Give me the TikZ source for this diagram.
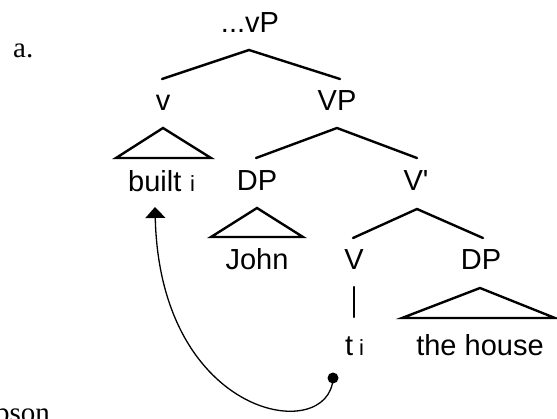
\documentclass[tikz,border=0pt]{standalone}
\usepackage{fontspec}
\setmainfont{Liberation Serif}
\newfontfamily\treefont{Liberation Sans}
\usetikzlibrary{arrows.meta}
\begin{document}
\begin{tikzpicture}[x=1pt,y=-1pt,
  lab/.style={font=\treefont\fontsize{29}{32}\selectfont, inner sep=0pt, anchor=base},
  idx/.style={font=\treefont\fontsize{22}{24}\selectfont, inner sep=0pt, anchor=base west},
  serif/.style={font=\fontsize{29}{32}\selectfont, inner sep=0pt},
  branch/.style={line width=2.4pt, line cap=round, line join=miter},
  move/.style={line width=1.3pt, -{Triangle[length=11pt,width=20pt]}}
]
\useasboundingbox (0,0) rectangle (557,418);

% example letter and a running-text fragment
\node[serif, anchor=base west] (ex) at (13,57) {a.};
\node[serif, anchor=base east] (author) at (50,422) {pson};

% labels
\node[lab] (vP)   at (250,32)  {...vP};
\node[lab] (v)    at (163,110) {v};
\node[lab] (VP)   at (337,110) {VP};
\node[lab, anchor=base west] (built) at (128,191) {built};
\node[idx] (built-i) at (190,191) {i};
\node[lab] (DP1)  at (257,190) {DP};
\node[lab] (Vbar) at (416,190) {V'};
\node[lab] (John) at (257,269) {John};
\node[lab] (V)    at (354,269) {V};
\node[lab] (DP2)  at (481,269) {DP};
\node[lab, anchor=base west] (t) at (345,355) {t};
\node[idx] (t-i) at (359,355) {i};
\node[lab] (house) at (480,355) {the house};

% branch end points
\coordinate (vP-top) at (249,50);
\coordinate (vP-l)   at (162,79);
\coordinate (vP-r)   at (340,79);
\coordinate (VP-top) at (337,128);
\coordinate (VP-l)   at (256,158);
\coordinate (VP-r)   at (417,158);
\coordinate (Vb-top) at (417,209);
\coordinate (Vb-l)   at (353,238);
\coordinate (Vb-r)   at (483,238);
\coordinate (V-top)  at (354,287);
\coordinate (V-bot)  at (354,317);

% triangle corners
\coordinate (vt-top) at (163,128);
\coordinate (vt-l)   at (116,158);
\coordinate (vt-r)   at (211,158);
\coordinate (jt-top) at (257,208);
\coordinate (jt-l)   at (211,237);
\coordinate (jt-r)   at (303,237);
\coordinate (ht-top) at (480,288);
\coordinate (ht-l)   at (402,318);
\coordinate (ht-r)   at (555,318);

% branches
\draw[branch] (vP-l) -- (vP-top) -- (vP-r);
\draw[branch] (VP-l) -- (VP-top) -- (VP-r);
\draw[branch] (Vb-l) -- (Vb-top) -- (Vb-r);
\draw[branch] (V-top) -- (V-bot);

% triangles
\draw[branch] (vt-l) -- (vt-top) -- (vt-r) -- cycle;
\draw[branch] (jt-l) -- (jt-top) -- (jt-r) -- cycle;
\draw[branch] (ht-l) -- (ht-top) -- (ht-r) -- cycle;

% head movement from the trace to the verb
\coordinate (trace) at (333,378);
\coordinate (tip)   at (155,207);
\fill (trace) circle (5.5);
\draw[move] (trace) .. controls (330,445) and (160,420) .. (tip);
\end{tikzpicture}
\end{document}
